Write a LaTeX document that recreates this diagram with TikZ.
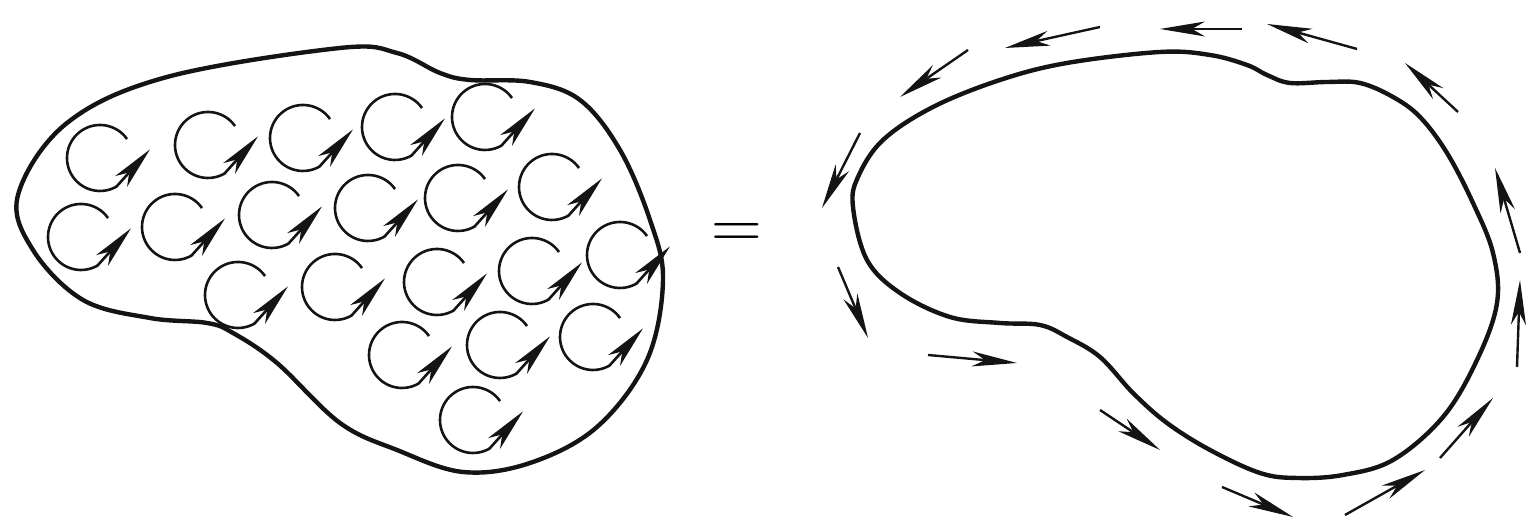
\documentclass[tikz,border=0pt]{standalone}
\usepackage{xcolor}
\definecolor{cInk}{HTML}{141414}
\usepackage{tikz}
\usetikzlibrary{arrows.meta}
\tikzset{
  region/.style={draw=cInk,line width=0.44mm,line join=round},
  eddy/.style={draw=cInk,line width=0.26mm,
    -{Stealth[length=4.3mm,width=1.6mm,inset=1.2mm]}},
  flux-arrow/.style={draw=cInk,line width=0.24mm,
    -{Stealth[length=4.5mm,width=1.5mm,inset=1.3mm]}},
}

\begin{document}
\begin{tikzpicture}[x=0.1mm,y=0.1mm]
  \useasboundingbox (0,0) rectangle (1528,523);
  % left region with the small eddies
  \draw[region] plot[smooth cycle,tension=0.6] coordinates {
    (18,328) (67,400) (167,446) (340,475) (397,470) (440,450) (470,443)
    (530,441) (580,423) (620,373) (650,303) (663,243) (647,163) (597,96)
    (530,60) (463,51) (397,73) (340,100) (277,160) (233,190) (207,200)
    (150,205) (83,223) (33,273)};
  \foreach \cx/\cy in {100/365,208/378,303/385,395/396,485/406,
      81/286,175/296,272/308,368/315,458/325,552/336,
      238/228,335/236,437/241,532/252,620/268,
      402/168,500/178,593/186,473/103}
    \draw[eddy] (\cx,\cy) ++(35:33) arc[start angle=35,end angle=300,radius=33]
      -- ++(48:50);
  % equals sign
  \node[inner sep=0pt,font=\fontsize{20}{24}\selectfont] (eq) at (737,287) {=};
  % right region with the boundary flow
  \draw[region] plot[smooth cycle,tension=0.6] coordinates {
    (853,316) (858,346) (883,383) (933,416) (1000,443) (1067,460) (1160,471)
    (1210,468) (1247,458) (1267,448) (1290,440) (1327,441) (1360,440)
    (1393,426) (1420,406) (1447,370) (1473,320) (1493,270) (1497,220)
    (1477,163) (1443,106) (1393,63) (1343,48) (1297,45) (1260,50) (1210,73)
    (1167,100) (1133,130) (1100,166) (1067,186) (1040,198) (1000,200)
    (950,206) (900,230) (867,263)};
  \foreach \xa/\ya/\xb/\yb in {1100/496/1005/475,968/473/900/426,
      860/390/822/315,1242/494/1160/494,1357/474/1267/499,
      1458/411/1405/460,1520/270/1495/355,1517/156/1520/243,
      1440/65/1493/125,1345/8/1425/53,1222/36/1293/6,
      1100/113/1160/73,928/168/1017/160,838/256/868/185}
    \draw[flux-arrow] (\xa,\ya) -- (\xb,\yb);
\end{tikzpicture}
\end{document}
